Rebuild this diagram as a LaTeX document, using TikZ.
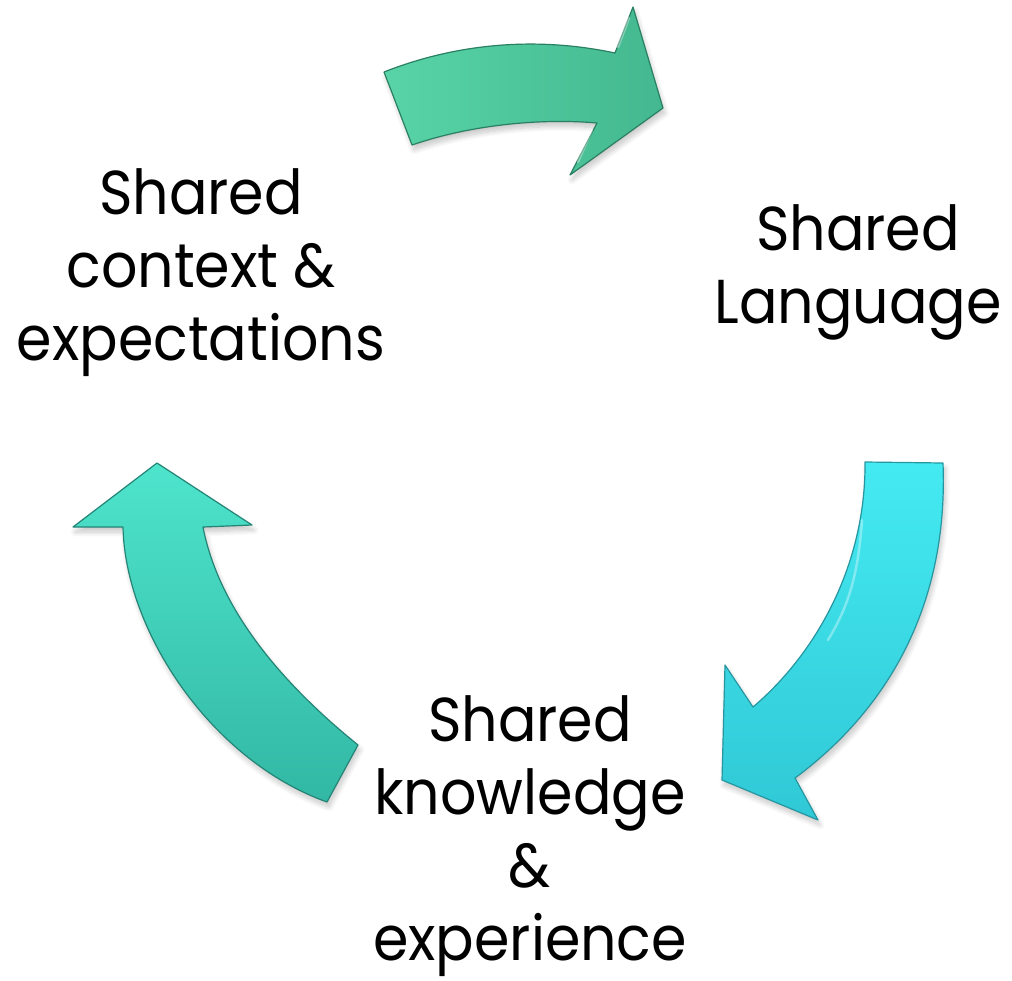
\documentclass[tikz,border=0pt]{standalone}
\usepackage{fontspec}
\setmainfont{Poppins}[FakeStretch=0.92]
\usetikzlibrary{shadows.blur}

\definecolor{topA}{RGB}{88,212,168}
\definecolor{topB}{RGB}{68,184,144}
\definecolor{topLine}{RGB}{42,128,98}
\definecolor{rightA}{RGB}{68,234,242}
\definecolor{rightB}{RGB}{48,200,214}
\definecolor{rightLine}{RGB}{38,150,160}
\definecolor{leftA}{RGB}{78,228,204}
\definecolor{leftB}{RGB}{50,184,164}
\definecolor{leftLine}{RGB}{36,132,118}

\tikzset{
  cyclearrow/.style={line width=1.2pt, line join=round,
    blur shadow={shadow xshift=2pt, shadow yshift=-5pt,
      shadow blur steps=10, shadow opacity=22, shadow blur radius=5pt}},
  bevel/.style={white, opacity=0.35, line width=2.5pt, line cap=round},
  label/.style={font=\fontsize{62}{73}\selectfont, align=center,
    inner sep=0pt, anchor=base}
}

\begin{document}
\begin{tikzpicture}[x=1pt, y=-1pt]
  \useasboundingbox (0,0) rectangle (1012,980);

  % arrow from context to language (top)
  \shade[cyclearrow, draw=topLine, left color=topA, right color=topB]
    (384,72) .. controls (460,42) and (540,37) .. (615,53)
    -- (633,7) -- (663,108) -- (570,175) -- (597,123)
    .. controls (540,118) and (470,125) .. (412,145) -- cycle;
  \draw[bevel] (629,18) -- (618,47);
  \draw[bevel] (592,130) -- (578,162);

  % arrow from language to knowledge (right)
  \shade[cyclearrow, draw=rightLine, top color=rightA, bottom color=rightB]
    (865,462) -- (943,463)
    .. controls (948,590) and (900,700) .. (795,778)
    -- (818,820) -- (722,780) -- (725,665) -- (753,707)
    .. controls (820,650) and (866,560) .. (865,462) -- cycle;
  \draw[bevel] (862,520) .. controls (858,580) and (846,610) .. (828,640);

  % arrow from knowledge to context (left)
  \shade[cyclearrow, draw=leftLine, top color=leftA, bottom color=leftB]
    (327,802) .. controls (210,760) and (125,630) .. (123,527)
    -- (73,527) -- (157,463) -- (252,525) -- (203,527)
    .. controls (220,615) and (290,690) .. (358,745) -- cycle;

  % labels (base anchor sits on the last line)
  \node[label] (context) at (201,360) {Shared\\context \&\\expectations};
  \node[label] (language) at (858,323) {Shared\\Language};
  \node[label] (knowledge) at (530,960) {Shared\\knowledge\\\&\\experience};
\end{tikzpicture}
\end{document}
